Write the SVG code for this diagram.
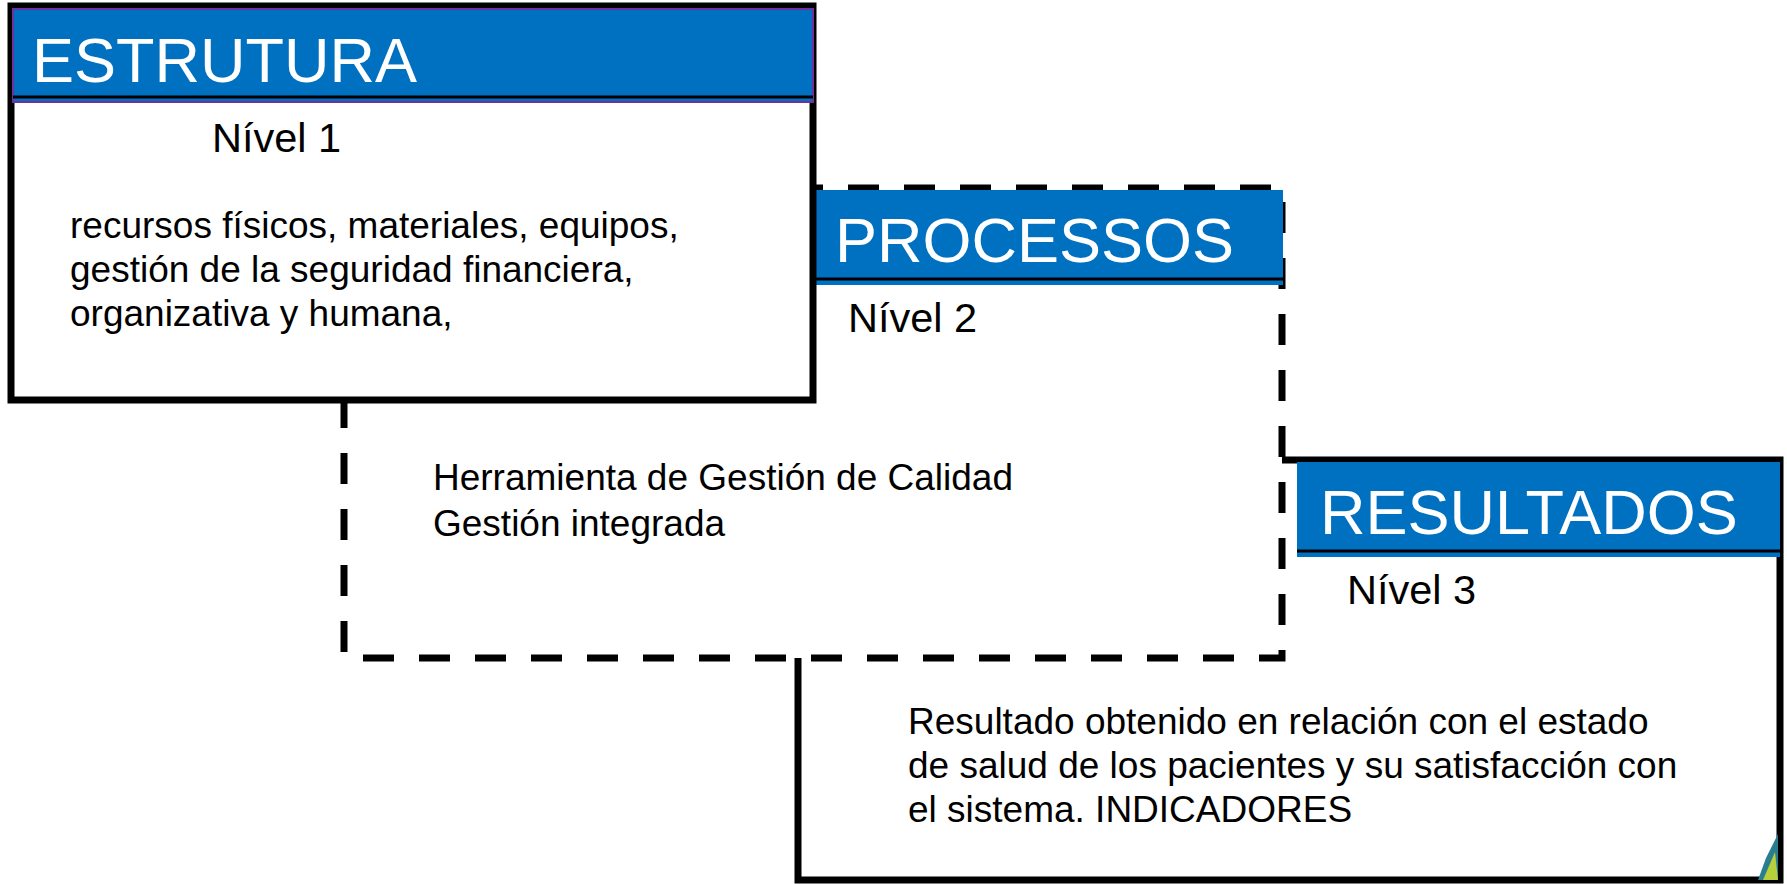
<svg xmlns="http://www.w3.org/2000/svg" width="1787" height="884" viewBox="0 0 1787 884">
<style>
.box{fill:#ffffff;stroke:#000000;stroke-width:7}
.dash{fill:#ffffff;stroke:#000000;stroke-width:7;stroke-dasharray:31 25}
.hdr{fill:#0070C0}
.hdrline{stroke:#000000;stroke-width:3}
.title{font-family:"Liberation Sans",Arial,sans-serif;font-size:63px;fill:#ffffff}
.lvl{font-family:"Liberation Sans",Arial,sans-serif;font-size:41.5px;fill:#000000}
.body{font-family:"Liberation Sans",Arial,sans-serif;font-size:37px;fill:#000000}
</style>
<rect width="1787" height="884" fill="#ffffff"/>
<g id="resultados">
<rect class="box" x="798" y="460" width="982" height="420"/>
<rect class="hdr" x="1297" y="462" width="483" height="95"/>
<line class="hdrline" x1="1297" y1="551" x2="1780" y2="551"/>
<text class="title" x="1320" y="534">RESULTADOS</text>
<text class="lvl" x="1347" y="604">Nível 3</text>
<text class="body"><tspan x="908" y="734">Resultado obtenido en relación con el estado</tspan><tspan x="908" y="778">de salud de los pacientes y su satisfacción con</tspan><tspan x="908" y="822">el sistema. INDICADORES</tspan></text>
<polygon points="1778,834 1778,880 1758,880 1766,858" fill="#2a7d8f"/>
<polygon points="1775,852 1778,880 1763,880" fill="#b7cf3a"/>
</g>
<g id="processos">
<rect class="dash" x="344" y="188" width="938" height="470"/>
<rect class="hdr" x="813" y="190" width="470" height="95"/>
<line class="hdrline" x1="813" y1="279" x2="1283" y2="279"/>
<text class="title" x="835" y="262">PROCESSOS</text>
<text class="lvl" x="848" y="332">Nível 2</text>
<text class="body"><tspan x="433" y="490">Herramienta de Gestión de Calidad</tspan><tspan x="433" y="536">Gestión integrada</tspan></text>
</g>
<g id="estrutura">
<rect class="box" x="11" y="6" width="802" height="394"/>
<rect class="hdr" x="13" y="9" width="800" height="93" stroke="#7030A0" stroke-width="2"/>
<line class="hdrline" x1="13" y1="97" x2="813" y2="97"/>
<text class="title" x="32" y="82">ESTRUTURA</text>
<text class="lvl" x="212" y="152">Nível 1</text>
<text class="body"><tspan x="70" y="238">recursos físicos, materiales, equipos,</tspan><tspan x="70" y="282">gestión de la seguridad financiera,</tspan><tspan x="70" y="326">organizativa y humana,</tspan></text>
</g>
<g id="connectors"></g>
</svg>
